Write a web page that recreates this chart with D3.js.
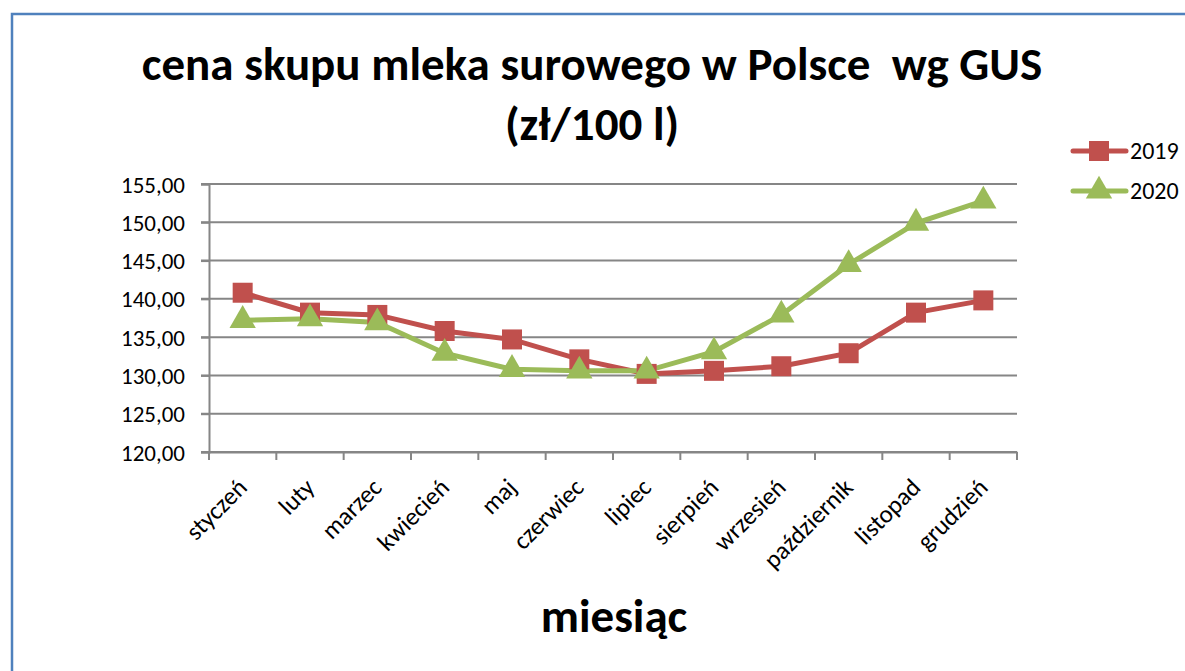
<!DOCTYPE html>
<html><head><meta charset="utf-8">
<script src="https://cdn.jsdelivr.net/npm/d3@7"></script>
<style>body{margin:0;background:#fff}svg{display:block}</style>
</head><body>
<script>
const months = ["styczeń","luty","marzec","kwiecień","maj","czerwiec","lipiec","sierpień","wrzesień","październik","listopad","grudzień"];
const values2019 = [140.8,138.2,137.9,135.8,134.7,132.1,130.2,130.6,131.2,132.9,138.2,139.8];
const values2020 = [137.2,137.4,136.9,132.9,130.8,130.6,130.6,133.1,137.9,144.5,149.9,152.8];
const yTicks = [120,125,130,135,140,145,150,155];
const seriesNames = ["2019","2020"];

const W=1185,H=671;
const svg=d3.select("body").append("svg").attr("width",W).attr("height",H);
svg.append("rect").attr("x",12).attr("y",14).attr("width",1200).attr("height",700)
  .attr("fill","#fff").attr("stroke","#4F81BD").attr("stroke-width",2.5);

const font="Carlito, 'Open Sans', 'Liberation Sans', sans-serif";
const x=d3.scaleBand().domain(months).range([209,1017]);
const y=d3.scaleLinear().domain([120,155]).range([452,184]);

// gridlines
svg.append("g").selectAll("line").data(yTicks).join("line")
  .attr("x1",201).attr("x2",1017).attr("y1",d=>y(d)).attr("y2",d=>y(d))
  .attr("stroke","#868686").attr("stroke-width",2);
// y axis
const ya=svg.append("g").attr("transform","translate(209,0)")
  .call(d3.axisLeft(y).tickValues(yTicks).tickSize(8).tickFormat(d=>d3.format(".2f")(d).replace(".",",")));
ya.select(".domain").attr("stroke","#868686").attr("stroke-width",2);
ya.selectAll(".tick line").attr("stroke","#868686").attr("stroke-width",2);
ya.selectAll("text").attr("font-family",font).attr("font-size",23).attr("fill","#000").attr("x",-24).attr("dy","0.35em");
// x axis
const xa=svg.append("g").attr("transform","translate(0,452)")
  .call(d3.axisBottom(x).tickSize(0).tickFormat(""));
xa.select(".domain").attr("stroke","#868686").attr("stroke-width",2);
const tickPos=d3.range(months.length+1).map(i=>i<months.length?x(months[i]):x.range()[1]);
svg.append("g").selectAll("line").data(tickPos).join("line")
  .attr("x1",d=>d).attr("x2",d=>d).attr("y1",452).attr("y2",460)
  .attr("stroke","#868686").attr("stroke-width",2);
svg.append("g").selectAll("text").data(months).join("text")
  .attr("transform",d=>`translate(${x(d)+x.bandwidth()/2+6},489) rotate(-45)`)
  .attr("text-anchor","end").attr("font-family",font).attr("font-size",25).text(d=>d);

const cx=d=>x(d)+x.bandwidth()/2;
const line=d3.line().x((d,i)=>cx(months[i])).y(d=>y(d));
const colors=["#C0504D","#9BBB59"];
svg.append("path").datum(values2019).attr("d",line).attr("fill","none").attr("stroke",colors[0]).attr("stroke-width",5);
svg.append("path").datum(values2020).attr("d",line).attr("fill","none").attr("stroke",colors[1]).attr("stroke-width",5);
const sq=d3.symbol().type(d3.symbolSquare).size(400);
const tri=d3.symbol().type(d3.symbolTriangle).size(300);
svg.append("g").selectAll("path").data(values2019).join("path")
  .attr("transform",(d,i)=>`translate(${cx(months[i])},${y(d)})`).attr("d",sq).attr("fill",colors[0]);
svg.append("g").selectAll("path").data(values2020).join("path")
  .attr("transform",(d,i)=>`translate(${cx(months[i])},${y(d)})`).attr("d",tri).attr("fill",colors[1]);

// legend
seriesNames.forEach((s,i)=>{
  const ly=151+i*40;
  svg.append("line").attr("x1",1073).attr("x2",1126).attr("y1",ly).attr("y2",ly).attr("stroke",colors[i]).attr("stroke-width",5).attr("stroke-linecap","round");
  svg.append("path").attr("transform",`translate(1099,${ly})`).attr("d",i==0?sq:tri).attr("fill",colors[i]);
  svg.append("text").attr("x",1130).attr("y",ly+8).attr("font-family",font).attr("font-size",24).text(s);
});

// titles
svg.append("text").attr("x",592).attr("y",80).attr("text-anchor","middle").attr("font-family",font)
  .attr("font-weight","bold").attr("font-size",47).attr("xml:space","preserve").text("cena skupu mleka surowego w Polsce  wg GUS");
svg.append("text").attr("x",592).attr("y",140).attr("text-anchor","middle").attr("font-family",font)
  .attr("font-weight","bold").attr("font-size",47).text("(zł/100 l)");
svg.append("text").attr("x",614).attr("y",632).attr("text-anchor","middle").attr("font-family",font)
  .attr("font-weight","bold").attr("font-size",47).text("miesiąc");
</script>
</body></html>
